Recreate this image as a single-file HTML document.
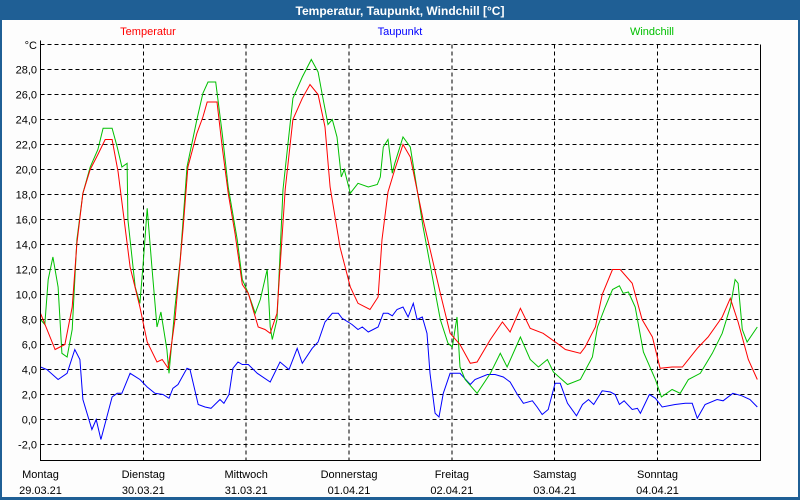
<!DOCTYPE html>
<html><head><meta charset="utf-8"><style>
body{margin:0;width:800px;height:500px;overflow:hidden;background:#fff;font-family:"Liberation Sans",sans-serif}
svg{display:block}
</style></head><body>
<svg id="chart" width="800" height="500" viewBox="0 0 800 500" xmlns="http://www.w3.org/2000/svg">
<rect x="0" y="0" width="800" height="500" fill="#1f5f95"/>
<rect x="2" y="20" width="796" height="477" fill="#fdfdfd"/>
<text x="400" y="15" text-anchor="middle" font-size="12" font-weight="bold" fill="#fff">Temperatur, Taupunkt, Windchill [°C]</text>
<text x="148" y="35" text-anchor="middle" font-size="11" fill="#ff0000">Temperatur</text>
<text x="400" y="35" text-anchor="middle" font-size="11" fill="#0000ff">Taupunkt</text>
<text x="652" y="35" text-anchor="middle" font-size="11" fill="#00c000">Windchill</text>
<text x="37" y="49" text-anchor="end" font-size="11" fill="#000">°C</text>
<g id="grid" shape-rendering="crispEdges"></g>
<g id="series"></g>
<g id="axes"></g>
</svg>
<script>
const yTicks=[28,26,24,22,20,18,16,14,12,10,8,6,4,2,0,-2];
const dayNames=["Montag","Dienstag","Mittwoch","Donnerstag","Freitag","Samstag","Sonntag"];
const dayDates=["29.03.21","30.03.21","31.03.21","01.04.21","02.04.21","03.04.21","04.04.21"];
const tempHours=[0,3.4,5.7,7.4,8.5,9.9,11.6,13.4,15.1,16.7,18.1,20.9,23.2,24.9,27.2,28.4,29.8,31.4,33.3,34.4,36.5,37.9,38.9,41.2,42.4,43.8,45.4,47.1,48.5,50.8,52.4,53.6,55.2,57.1,58.9,61.1,62.9,64.8,66.4,67.6,69.9,72.3,74.1,76.9,78.8,79.7,81.1,82.7,84.6,86.3,89.3,93.3,95.6,97.9,100.3,101.9,105.0,107.8,109.6,112.0,114.3,117.3,120.6,122.5,126.0,127.1,129.5,131.1,133.5,135.3,138.1,140.4,142.8,144.6,147.4,149.8,153.3,155.8,159.1,161.0,162.8,165.2,167.3];
const tempValues=[8.5,5.6,6.0,9.0,14.1,18.1,20.0,21.2,22.4,22.4,19.8,12.2,9.0,6.2,4.6,4.8,4.1,8.0,15.4,20.2,22.9,24.2,25.4,25.4,21.8,18.1,14.9,10.8,10.1,7.4,7.2,6.9,8.5,18.4,24.0,25.7,26.8,26.0,23.4,18.6,13.8,10.6,9.3,8.8,9.8,14.4,18.2,20.0,22.0,21.0,16.0,10.1,6.9,6.0,4.5,4.6,6.4,7.8,7.0,8.9,7.3,6.9,6.1,5.6,5.3,5.8,7.4,10.0,12.0,12.0,10.9,8.0,6.6,4.1,4.2,4.2,5.7,6.6,8.2,9.7,7.8,4.8,3.2];
const windHours=[0,1.0,1.8,2.9,4.1,5.0,6.2,7.4,8.5,9.9,11.6,13.4,14.6,16.7,17.9,19.0,20.2,20.4,22.1,23.2,23.9,24.9,26.0,27.2,28.1,29.5,30.0,31.4,32.6,34.2,36.5,37.9,39.1,40.9,42.4,43.8,45.9,47.1,48.5,50.1,51.3,52.9,53.6,54.1,55.2,56.6,58.9,61.1,63.2,64.8,65.7,67.1,68.1,69.2,70.2,70.9,72.3,74.1,76.5,78.6,79.3,80.0,81.1,82.1,82.7,84.6,86.3,89.3,93.3,95.1,96.1,97.2,97.9,99.1,101.9,105.0,107.3,108.9,112.0,114.3,116.2,118.3,119.7,123.0,126.0,128.8,130.0,131.8,133.5,135.1,136.0,137.2,138.8,140.7,143.5,144.9,147.4,149.3,151.2,154.0,156.8,159.1,161.0,162.1,162.8,163.8,164.9,167.3];
const windValues=[8.0,7.6,11.2,13.0,10.6,5.3,5.0,7.2,14.4,18.1,20.2,21.6,23.3,23.3,21.8,20.2,20.5,16.0,10.6,9.3,12.2,16.9,12.2,7.4,8.6,5.6,3.7,9.0,12.8,20.2,24.0,26.1,27.0,27.0,22.9,18.6,14.4,11.2,10.1,8.5,9.6,12.0,7.4,6.4,8.0,18.4,25.7,27.4,28.8,27.8,26.1,23.6,24.0,22.6,19.4,20.0,18.1,18.9,18.6,18.8,19.4,21.8,22.4,19.7,20.5,22.6,21.8,15.4,8.0,6.1,5.8,8.2,4.2,3.2,2.1,3.7,5.3,4.2,6.6,4.8,4.2,4.8,3.8,2.8,3.2,5.0,7.4,9.0,10.4,10.7,10.1,10.2,9.0,5.4,3.2,1.8,2.4,2.1,3.2,3.7,5.3,6.9,9.0,11.2,10.9,7.2,6.2,7.4];
const dewHours=[0,1.5,4.1,6.2,8.0,9.2,9.9,12.0,13.0,14.1,16.7,17.9,19.0,20.9,23.2,24.9,26.7,28.6,30.0,30.9,32.1,34.2,34.9,36.8,38.4,39.8,41.9,42.8,44.0,44.9,46.1,47.1,48.5,50.6,53.6,55.9,58.0,59.9,61.1,63.4,64.8,66.4,68.1,69.5,70.4,72.7,74.1,75.1,76.5,78.8,80.0,81.1,82.1,83.2,84.6,85.8,87.0,87.9,89.1,90.2,90.9,92.1,93.0,94.0,95.6,97.9,100.3,101.4,104.3,106.1,108.0,109.6,111.3,112.7,114.8,115.9,117.1,118.5,120.1,121.3,123.0,125.1,126.5,127.9,129.1,131.1,133.0,134.1,135.1,136.2,138.1,139.3,140.0,142.1,143.5,145.1,148.1,150.5,152.1,153.3,155.1,157.9,159.3,161.6,163.7,165.6,167.3];
const dewValues=[4.2,4.0,3.2,3.7,5.6,4.8,1.6,-0.8,0.0,-1.6,1.8,2.1,2.1,3.7,3.2,2.6,2.1,2.0,1.7,2.5,2.8,4.1,4.0,1.2,1.0,0.9,1.6,1.3,2.0,4.1,4.6,4.4,4.4,3.7,3.0,4.6,4.0,5.7,4.5,5.7,6.2,7.8,8.5,8.5,8.1,7.6,7.2,7.4,7.0,7.4,8.5,8.5,8.3,8.8,9.0,8.2,9.3,8.0,8.2,6.9,3.7,0.5,0.2,2.1,3.7,3.7,2.8,3.2,3.6,3.6,3.4,3.0,2.0,1.3,1.5,1.0,0.4,0.8,2.9,2.9,1.3,0.3,1.2,1.6,1.2,2.3,2.2,2.0,1.2,1.5,0.8,0.9,0.5,2.0,1.7,1.0,1.2,1.3,1.3,0.1,1.2,1.6,1.5,2.1,1.9,1.6,1.0];

const NS="http://www.w3.org/2000/svg";
const X0=40.5,X1=760.5,YT=44.5,YB=460.5;
const hourW=(657.5-40.5)/144;
const xs=h=>X0+h*hourW;
const ys=v=>419.5-v*12.5;
function mk(tag,attrs,parent){const e=document.createElementNS(NS,tag);for(const k in attrs)e.setAttribute(k,attrs[k]);parent.appendChild(e);return e;}
const grid=document.getElementById('grid'),axes=document.getElementById('axes'),series=document.getElementById('series');
[30].concat(yTicks).forEach(v=>{
  const l=mk('line',{x1:X0,x2:X1,y1:ys(v),y2:ys(v),stroke:'#000','stroke-dasharray':'4,3','stroke-width':1},grid);
  
  
});
yTicks.forEach(v=>{
  const t=mk('text',{x:37,y:ys(v)+4,'text-anchor':'end','font-size':11,fill:'#000'},axes);
  t.textContent=v.toFixed(1).replace('.',',');
  
  
});
dayNames.forEach((d,i)=>{
  const x=xs(i*24);
  if(i>0){const l=mk('line',{x1:x,x2:x,y1:YT,y2:YB,stroke:'#000','stroke-dasharray':'4,3'},grid);
  
  }
  const t=mk('text',{x:x,y:478,'text-anchor':'middle','font-size':11,fill:'#000'},axes);
  t.textContent=d;
  
  
  const t2=mk('text',{x:x,y:494,'text-anchor':'middle','font-size':11,fill:'#000'},axes);
  t2.textContent=dayDates[i];
  
  
});
const ax=mk('path',{d:`M${X0},${YT-4}V${YB}H${X1}V${YT}`,fill:'none',stroke:'#000','stroke-width':1,'shape-rendering':'crispEdges'},axes);


function line(hs,vs,color,name){
  const d=hs.map((h,i)=>(i?'L':'M')+xs(h).toFixed(1)+','+ys(vs[i]).toFixed(1)).join('');
  const p=mk('path',{d:d,fill:'none',stroke:color,'stroke-width':1},series);
  
  
}
line(dewHours,dewValues,'#0000ff','taupunkt-line');
line(windHours,windValues,'#00c000','windchill-line');
line(tempHours,tempValues,'#ff0000','temperatur-line');
</script>
</body></html>
